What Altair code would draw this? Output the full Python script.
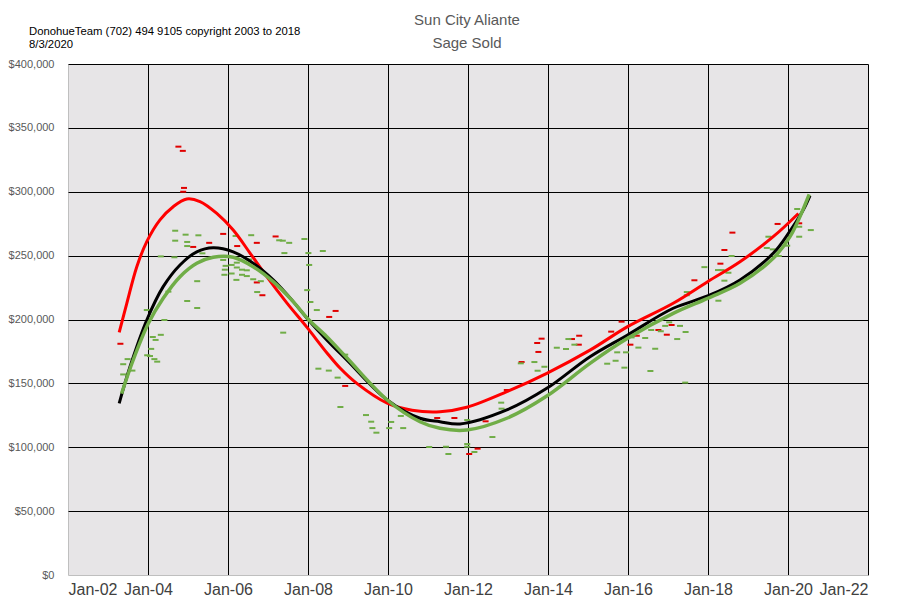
import altair as alt
import pandas as pd

# ---- scatter data (year as decimal, price in $ thousands) ----
red_x = [2003.31, 2004.76, 2004.87, 2004.90, 2004.88, 2005.13, 2005.53, 2005.88, 2006.23, 2006.72,
         2007.19, 2006.72, 2006.86, 2008.69, 2008.53, 2008.93, 2011.23, 2011.66, 2012.44, 2012.24,
         2012.03, 2012.97, 2013.34, 2013.76, 2013.73, 2013.84, 2014.60, 2014.78, 2014.77, 2015.58,
         2015.84, 2016.22, 2016.06, 2016.76, 2016.97, 2017.09, 2017.66, 2018.31, 2018.41, 2018.61,
         2019.74, 2020.28]
red_y = [181, 335.3, 332, 303, 300, 256.8, 260, 267, 257.5, 260,
         265, 229, 219, 206.7, 202, 148, 122.9, 122.9, 120.3, 98.9,
         94.7, 144.8, 166.7, 174.6, 181.6, 185, 184.7, 187.3, 180.3, 190.5,
         198.3, 187.3, 180.3, 191.8, 188.1, 195.7, 230.7, 243.7, 254.4, 268,
         274.8, 275.3]

green_x = [2003.38, 2003.38, 2003.49, 2003.61, 2003.97, 2003.98, 2004.05, 2004.08, 2004.12, 2004.16,
           2004.19, 2004.23, 2004.32, 2004.32, 2004.41, 2004.51, 2004.66, 2004.68, 2004.68, 2004.94,
           2004.98, 2004.98, 2004.98, 2005.23, 2005.23, 2005.26, 2005.36, 2005.88, 2005.92, 2005.91,
           2005.94, 2006.09, 2006.09, 2006.19, 2006.21, 2006.22, 2006.22, 2006.35, 2006.35, 2006.47,
           2006.47, 2006.53, 2006.58, 2006.63, 2006.73, 2006.82, 2007.28, 2007.37, 2007.38, 2007.41,
           2007.53, 2007.91, 2007.98, 2008.01, 2008.03, 2008.06, 2008.22, 2008.26, 2008.37, 2008.52,
           2008.74, 2008.81, 2008.93, 2009.45, 2009.58, 2009.61, 2009.71, 2010.03, 2010.08, 2010.32,
           2010.38, 2011.03, 2011.45, 2011.51, 2011.98, 2011.98, 2011.98, 2012.16, 2012.61, 2012.83,
           2012.84, 2013.32, 2013.66, 2013.74, 2013.91, 2014.22, 2014.45, 2014.51, 2014.66, 2015.48,
           2015.69, 2015.73, 2015.91, 2015.95, 2015.97, 2016.09, 2016.26, 2016.43, 2016.56, 2016.58,
           2016.68, 2016.82, 2016.93, 2017.03, 2017.23, 2017.30, 2017.43, 2017.44, 2017.47, 2017.47,
           2017.91, 2018.19, 2018.25, 2018.26, 2018.34, 2018.41, 2018.51, 2018.59, 2019.47, 2019.51,
           2019.62, 2019.77, 2019.98, 2020.23, 2020.28, 2020.28, 2020.57]
green_y = [157, 165, 169, 160, 207.4, 172, 171.4, 177, 186.3, 169,
           184, 167, 188, 249.4, 199.6, 221.8, 248.7, 269.5, 261.7, 266.4,
           260.7, 257.5, 214.5, 230, 209, 265.9, 251.8, 246.6, 239, 235,
           242, 242.7, 236, 265.4, 231, 244.5, 240.7, 239, 235, 238.5,
           234, 247, 266, 231.5, 221.5, 230, 262, 261.7, 189.7, 252,
           260, 263, 223, 252, 242.7, 213.7, 207.4, 161.5, 253.6, 160,
           154.5, 131.5, 172.5, 125.2, 120, 115, 111.4, 115, 119.8, 124.5,
           115, 100.2, 100.4, 94.7, 121.3, 102.5, 100.4, 96.3, 108, 134.9,
           130.2, 165.7, 166.7, 159.9, 163, 177.9, 176.9, 184.7, 180.3, 165.4,
           167.7, 174.3, 162.3, 174.3, 185.3, 186, 178, 185.5, 159.7, 191.8,
           177.1, 190.8, 195, 197.8, 184.7, 195, 150.6, 190.2, 221.5, 219,
           241, 220.5, 238.7, 214.7, 238.7, 230.4, 236.6, 249.7, 256, 264.8,
           254.9, 249.7, 257.8, 286.5, 272.6, 264.8, 270]

# ---- trend curves ----
red_line_x = [2003.28, 2003.47, 2003.72, 2003.97, 2004.30, 2004.63, 2004.97, 2005.30, 2005.72, 2006.13,
              2006.55, 2006.97, 2007.47, 2007.97, 2008.47, 2008.80, 2009.22, 2009.98, 2010.60, 2011.30,
              2011.97, 2012.97, 2013.97, 2015.05, 2015.99, 2017.13, 2017.99, 2018.80, 2019.63, 2020.26]
red_line_y = [190, 212.6, 241.3, 261, 278, 288.3, 294.3, 292.3, 283, 270,
              252, 233.5, 213, 194, 174, 162, 150, 134.5, 129, 127.8,
              131.3, 143.5, 157.9, 176, 194.4, 212.7, 229.6, 245.2, 264.8, 283]

black_line_x = [2003.28, 2003.55, 2003.97, 2004.38, 2004.80, 2005.22, 2005.63, 2006.13, 2006.63, 2007.13,
                2007.63, 2007.99, 2008.47, 2008.97, 2009.98, 2010.80, 2011.30, 2011.80, 2012.97, 2013.97,
                2015.05, 2015.99, 2017.13, 2017.99, 2018.80, 2019.63, 2020.01, 2020.38, 2020.55]
black_line_y = [134.4, 163, 199.6, 225.7, 242.7, 253, 256.2, 253, 244, 231,
                214, 200.4, 184, 168.3, 137, 122.7, 120, 118.2, 129.2, 146.1,
                170.9, 187.9, 208.8, 218.4, 231, 251.8, 267.4, 285.7, 297]

green_line_x = [2003.34, 2003.63, 2004.01, 2004.38, 2004.80, 2005.22, 2005.63, 2006.13, 2006.63, 2007.13,
                2007.63, 2008.00, 2008.47, 2008.97, 2009.98, 2010.80, 2011.30, 2011.97, 2012.97, 2013.97,
                2015.05, 2015.99, 2017.13, 2017.99, 2018.80, 2019.63, 2020.05, 2020.53]
green_line_y = [142, 168.3, 197, 216.6, 233.5, 244, 248.7, 248.7, 241.3, 229.6,
                214, 200.4, 186.5, 170, 137, 120, 114.8, 113.5, 122.7, 140.1,
                165.7, 185.3, 204.8, 216.6, 228.3, 247.9, 264.8, 298]

x_ticks = list(range(2002, 2023, 2))
y_ticks = list(range(0, 400001, 50000))

title_lines = ["Sun City Aliante", "Sage Sold"]
note_lines = ["DonohueTeam (702) 494 9105 copyright 2003 to 2018", "8/3/2020"]


def frame(xs, ys):
    return pd.DataFrame({"year": xs, "price": [v * 1000 for v in ys]})


x_scale = alt.Scale(domain=[2002, 2022], nice=False, zero=False)
y_scale = alt.Scale(domain=[0, 400000], nice=False)

x_axis = alt.Axis(
    values=x_ticks, title=None, labelExpr="'Jan-' + slice(toString(datum.value), 2)",
    grid=True, gridColor=alt.condition("datum.value == 2002", alt.value("#bfbfbf"), alt.value("#000000")),
    gridWidth=1, domain=False, ticks=False, tickSize=0, labelPadding=6,
    labelFont="Liberation Sans", labelFontSize=16, labelColor="#404040",
)
y_axis = alt.Axis(
    values=y_ticks, title=None, format="$,.0f",
    grid=True, gridColor=alt.condition("datum.value == 0", alt.value("#bfbfbf"), alt.value("#000000")),
    gridWidth=1, domain=False, ticks=False, tickSize=0, labelPadding=14,
    labelFont="Liberation Sans", labelFontSize=11, labelColor="#595959",
)

X = alt.X("year:Q", scale=x_scale, axis=x_axis)
Y = alt.Y("price:Q", scale=y_scale, axis=y_axis)

red_pts = alt.Chart(frame(red_x, red_y)).mark_tick(
    orient="horizontal", size=6, thickness=2, color="#e00000", opacity=1
).encode(x=X, y=Y)
green_pts = alt.Chart(frame(green_x, green_y)).mark_tick(
    orient="horizontal", size=6, thickness=2, color="#70ad47", opacity=1
).encode(x=X, y=Y)

red_line = alt.Chart(frame(red_line_x, red_line_y)).mark_line(
    color="#ff0000", strokeWidth=3, interpolate="catmull-rom"
).encode(x=X, y=Y)
black_line = alt.Chart(frame(black_line_x, black_line_y)).mark_line(
    color="#000000", strokeWidth=3, interpolate="catmull-rom"
).encode(x=X, y=Y)
green_line = alt.Chart(frame(green_line_x, green_line_y)).mark_line(
    color="#70ad47", strokeWidth=3.5, interpolate="catmull-rom"
).encode(x=X, y=Y)

title1 = alt.Chart(pd.DataFrame({"t": [title_lines[0]]})).mark_text(
    font="Liberation Sans", fontSize=15, color="#595959", align="center", baseline="middle"
).encode(text="t:N", x=alt.value(399), y=alt.value(-44))
title2 = alt.Chart(pd.DataFrame({"t": [title_lines[1]]})).mark_text(
    font="Liberation Sans", fontSize=15, color="#595959", align="center", baseline="middle"
).encode(text="t:N", x=alt.value(399), y=alt.value(-21))
note1 = alt.Chart(pd.DataFrame({"t": [note_lines[0]]})).mark_text(
    font="Liberation Sans", fontSize=11.3, color="#000000", align="left", baseline="middle"
).encode(text="t:N", x=alt.value(-39), y=alt.value(-32))
note2 = alt.Chart(pd.DataFrame({"t": [note_lines[1]]})).mark_text(
    font="Liberation Sans", fontSize=11.3, color="#000000", align="left", baseline="middle"
).encode(text="t:N", x=alt.value(-39), y=alt.value(-19))

chart = alt.layer(
    red_pts, green_pts, red_line, black_line, green_line, title1, title2, note1, note2
).properties(
    width=800, height=511,
    autosize=alt.AutoSizeParams(type="none"),
    padding={"left": 60, "top": 56, "right": 24, "bottom": 37},
    background="#ffffff",
).configure_view(fill="#e7e5e7", stroke=None)

chart.save("out.html", embed_options={"renderer": "svg", "actions": False})
